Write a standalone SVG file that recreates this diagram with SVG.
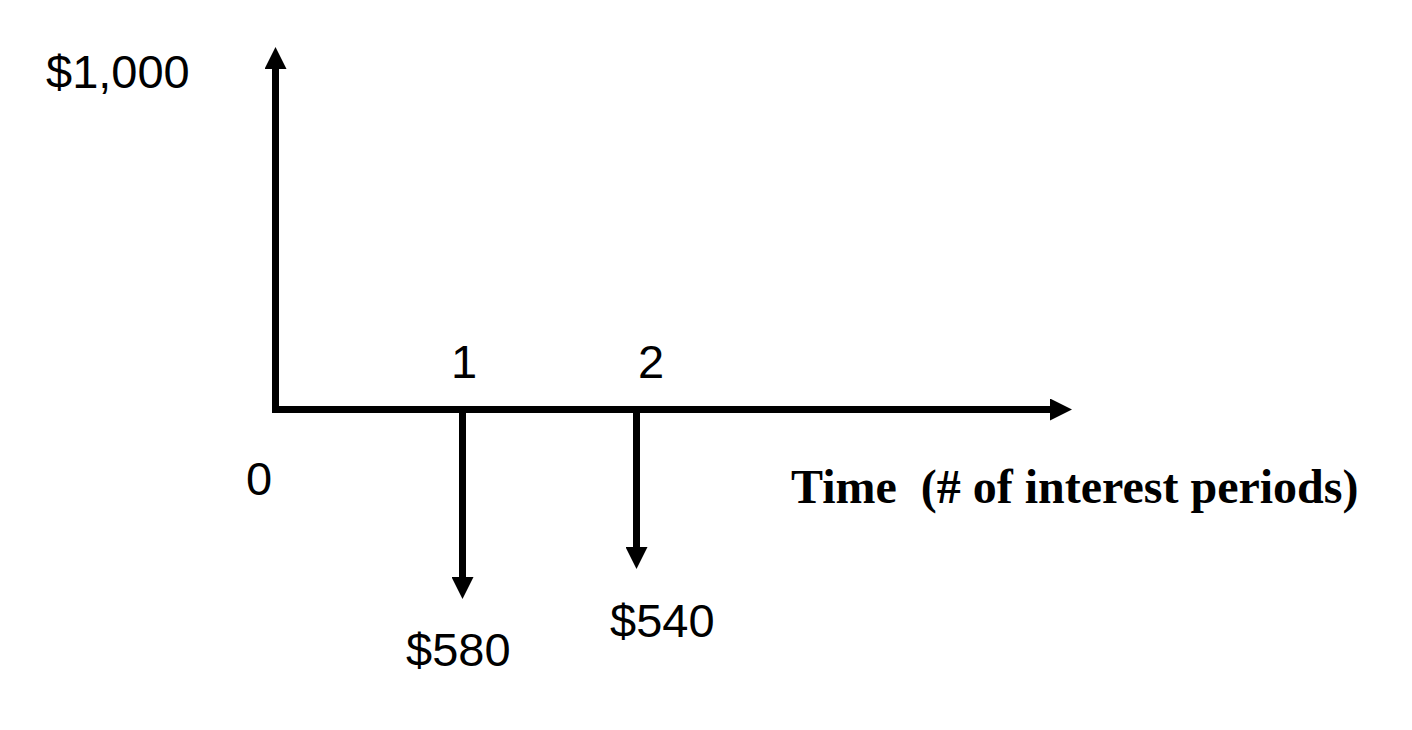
<svg xmlns="http://www.w3.org/2000/svg" width="1412" height="730" viewBox="0 0 1412 730">
<style>
.lbl{font-family:"Liberation Sans",Arial,sans-serif;font-size:47px;fill:#000}
.ttl{font-family:"Liberation Serif","Times New Roman",serif;font-size:48px;font-weight:bold;fill:#000;white-space:pre}
.ax{stroke:#000;stroke-width:7;fill:none}
</style>
<defs>
<marker id="ah" markerUnits="userSpaceOnUse" markerWidth="22" markerHeight="22" viewBox="0 0 22 22" refX="0" refY="11" orient="auto">
<path d="M0,0 L22,11 L0,22 z" fill="#000"/>
</marker>
</defs>
<rect width="1412" height="730" fill="#fff"/>
<g id="connectors">
<line class="ax" x1="275.5" y1="413" x2="275.5" y2="69" marker-end="url(#ah)"/>
<line class="ax" x1="272" y1="409.5" x2="1050" y2="409.5" marker-end="url(#ah)"/>
<line class="ax" x1="462.5" y1="409" x2="462.5" y2="577" marker-end="url(#ah)"/>
<line class="ax" x1="636.5" y1="409" x2="636.5" y2="547" marker-end="url(#ah)"/>
</g>
<g id="label-1000"><text class="lbl" x="46" y="88">$1,000</text></g>
<g id="label-0"><text class="lbl" x="246" y="495">0</text></g>
<g id="label-1"><text class="lbl" x="451" y="378">1</text></g>
<g id="label-2"><text class="lbl" x="638" y="378">2</text></g>
<g id="label-580"><text class="lbl" x="406" y="666">$580</text></g>
<g id="label-540"><text class="lbl" x="610" y="637">$540</text></g>
<g id="label-time"><text class="ttl" x="791" y="503" xml:space="preserve">Time  (# of interest periods)</text></g>
</svg>
